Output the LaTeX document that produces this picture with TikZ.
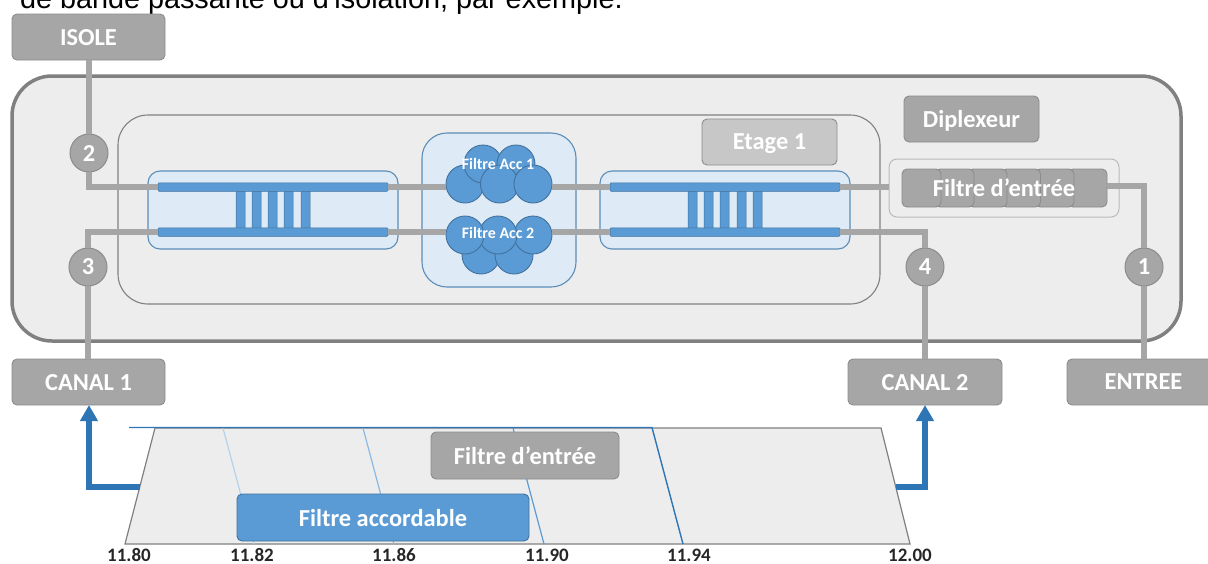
\documentclass[tikz,border=0pt]{standalone}
\usepackage{fontspec}
\setmainfont{Carlito}
\newfontfamily\arialfont{Liberation Sans}
\usetikzlibrary{arrows.meta}
\definecolor{boxgray}{HTML}{A6A6A6}
\definecolor{boxedge}{HTML}{8C8C8C}
\definecolor{panel}{HTML}{EDEDED}
\definecolor{bluefill}{HTML}{5B9BD5}
\definecolor{blueedge}{HTML}{41719C}
\definecolor{bluepanel}{HTML}{DEEAF6}
\definecolor{bluepaneledge}{HTML}{5B8DB8}
\definecolor{bluearrow}{HTML}{2E75B6}
\tikzset{
  base/.style={inner sep=0pt,outer sep=0pt,align=center},
  graybox/.style={base,rectangle,rounded corners=5pt,fill=boxgray,draw=boxedge,line width=0.9pt,
    text=white,font=\fontsize{24.4}{27}\selectfont\bfseries,text depth=0pt},
  lightbox/.style={graybox,fill=black!22,draw=boxedge},
  unitbox/.style={base,rectangle,rounded corners=5pt,fill=boxgray,draw=boxedge,line width=0.9pt,minimum width=39pt,minimum height=38pt},
  port/.style={base,circle,minimum size=38pt,fill=boxgray,draw=boxedge,line width=1pt,text=white,
    font=\fontsize{24.4}{27}\selectfont\bfseries},
  wire/.style={draw=boxgray,line width=6pt,line join=miter},
  bluepan/.style={base,rectangle,fill=bluepanel,draw=bluepaneledge,line width=1.1pt},
  rail/.style={base,rectangle,fill=bluefill,draw=blueedge,line width=0.5pt,rounded corners=1pt,minimum width=230pt,minimum height=8.5pt},
  rung/.style={base,rectangle,fill=bluefill,draw=blueedge,line width=0.5pt,rounded corners=1pt,minimum width=9pt,minimum height=39pt},
  res/.style={base,circle,minimum size=38pt,fill=bluefill,draw=blueedge,line width=0.9pt},
  wtext/.style={base,text=white,font=\fontsize{24.4}{27}\selectfont\bfseries},
  tick/.style={base,text=black!85,font=\fontsize{19}{21}\selectfont\bfseries},
  barrow/.style={draw=bluearrow,line width=5.5pt,line join=miter,-{Triangle[width=17pt,length=16pt]}},
}
\begin{document}
\begin{tikzpicture}[x=1pt,y=-1pt]
\useasboundingbox (0,0) rectangle (1208,563);
% clipped sentence above the diagram
\node[base,anchor=base west,font=\arialfont\fontsize{28.8}{32}\selectfont,text=black] (sentence) at (20,8) {de bande passante ou d'isolation, par exemple.};

% main enclosures
\node[base,rectangle,rounded corners=40pt,fill=panel,draw=black!50,line width=3.5pt,minimum width=1169pt,minimum height=265pt] (diplexer) at (596.5,208.5) {};
\node[base,rectangle,rounded corners=30pt,fill=panel,draw=black!50,line width=1.1pt,minimum width=762pt,minimum height=189pt] (stage) at (499,209.5) {};

% terminal boxes
\node[graybox,minimum width=153pt,minimum height=46pt] (isole) at (88.5,37) {ISOLE};
\node[graybox,minimum width=153pt,minimum height=46pt] (canalA) at (88.5,382) {CANAL 1};
\node[graybox,minimum width=154pt,minimum height=46pt] (canalB) at (925,382) {CANAL 2};
\node[graybox,minimum width=153pt,minimum height=46pt] (entree) at (1143.5,382) {ENTREE};
\node[graybox,minimum width=135pt,minimum height=46pt] (diplabel) at (971.5,119) {Diplexeur};
\node[lightbox,minimum width=135pt,minimum height=46pt] (etage) at (769.5,142) {Etage 1};

% input filter
\node[base,rectangle,rounded corners=8pt,fill=panel,draw=black!27,line width=1pt,minimum width=230pt,minimum height=58pt] (inpanel) at (1004,188) {};
\foreach \n/\xc in {6/1087.5,5/1054.5,4/1021,3/987.5,2/954.5,1/921.5}
  \node[unitbox] (u\n) at (\xc,188) {};

% left coupled-line filter
\node[bluepan,rounded corners=12pt,minimum width=250pt,minimum height=78pt] (leftpan) at (273,210) {};
\foreach \n/\xc in {1/240.5,2/256.5,3/272.5,4/288.5,5/305.5}
  \node[rung] (lr\n) at (\xc,209.5) {};
\node[rail] (ltop) at (273,187) {};
\node[rail] (lbot) at (273,232) {};

% right coupled-line filter
\node[bluepan,rounded corners=12pt,minimum width=250pt,minimum height=78pt] (rightpan) at (725,210) {};
\foreach \n/\xc in {1/692.5,2/708.5,3/724.5,4/741.5,5/757.5}
  \node[rung] (rr\n) at (\xc,209.5) {};
\node[rail] (rtop) at (725,187) {};
\node[rail] (rbot) at (725,232) {};

% tunable filters
\node[bluepan,rounded corners=25pt,minimum width=154pt,minimum height=154pt] (midpan) at (499,210) {};
\node[res] (a1) at (465,184) {};
\node[res] (a2) at (483,164) {};
\node[res] (a3) at (516,164) {};
\node[res] (a4) at (499.5,184) {};
\node[res] (a5) at (533,184) {};
\node[res] (b1) at (481,255) {};
\node[res] (b2) at (514,255) {};
\node[res] (b3) at (533,235) {};
\node[res] (b4) at (498,235) {};
\node[res] (b5) at (465,235) {};
\node[wtext,font=\fontsize{15.9}{18}\selectfont\bfseries] (acc1) at (498,164) {Filtre Acc 1};
\node[wtext,font=\fontsize{15.9}{18}\selectfont\bfseries] (acc2) at (498,233) {Filtre Acc 2};

% ports
\coordinate (cornerA) at (89,187);
\coordinate (cornerB) at (88,232);
\coordinate (cornerC) at (925,232);
\coordinate (cornerD) at (1144,186);
\node[port] (p2) at (89,153) {2};
\node[port] (p3) at (88,267) {3};
\node[port] (p4) at (925,267) {4};
\node[port] (p1) at (1144,267) {1};

% wires
\draw[wire] (isole.south -| p2) -- (p2.north);
\draw[wire] (p2.south) -- (cornerA) -- (ltop.west);
\draw[wire] (p3.north) -- (cornerB) -- (lbot.west);
\draw[wire] (p3.south) -- (canalA.north -| p3);
\draw[wire] (ltop.east) -- (a1.west |- ltop.east);
\draw[wire] (lbot.east) -- (b5.west |- lbot.east);
\draw[wire] (a5.east |- rtop.west) -- (rtop.west);
\draw[wire] (b3.east |- rbot.west) -- (rbot.west);
\draw[wire] (rtop.east) -- (inpanel.west |- rtop.east);
\draw[wire] (rbot.east) -- (cornerC) -- (p4.north);
\draw[wire] (p4.south) -- (canalB.north);
\draw[wire] (u6.east |- cornerD) -- (cornerD) -- (p1.north);
\draw[wire] (p1.south) -- (entree.north -| p1);
\node[wtext] (filtreA) at (1004,188) {Filtre d’entrée};

% spectrum
\coordinate (ta) at (155,428);
\coordinate (tb) at (881,428);
\coordinate (tc) at (910,544);
\coordinate (td) at (125,544);
\draw[fill=panel,draw=black!50,line width=1.2pt] (ta) -- (tb) -- (tc) -- (td) -- cycle;
\node[tick] (t80) at (129,555) {11.80};
\node[tick] (t82) at (252,555) {11.82};
\node[tick] (t86) at (394,555) {11.86};
\node[tick] (t90) at (547,555) {11.90};
\node[tick] (t94) at (689,555) {11.94};
\node[tick] (t00) at (910,555) {12.00};
\coordinate (s82) at (223,428);
\coordinate (s86) at (363,428);
\coordinate (s90) at (513,428);
\coordinate (s94) at (652,427.5);
\coordinate (stop) at (129,427.5);
\draw[color=bluefill!45,line width=1.2pt] (s82) -- (254,544);
\draw[color=bluefill!70,line width=1.2pt] (s86) -- (394,544);
\draw[color=bluefill,line width=1.2pt] (s90) -- (544,544);
\draw[color=bluearrow,line width=1.4pt] (stop) -- (s94) -- (683,544);
\node[graybox,minimum width=188pt,minimum height=47pt] (filtreB) at (525,455.5) {Filtre d’entrée};
\node[graybox,fill=bluefill,draw=blueedge,minimum width=292pt,minimum height=47pt] (accord) at (383,517.5) {Filtre accordable};
\coordinate (lefts) at (140,487);
\coordinate (rights) at (896,487);
\draw[barrow] (lefts) -| (canalA.south -| 89,0);
\draw[barrow] (rights) -| (canalB.south);
\end{tikzpicture}
\end{document}
